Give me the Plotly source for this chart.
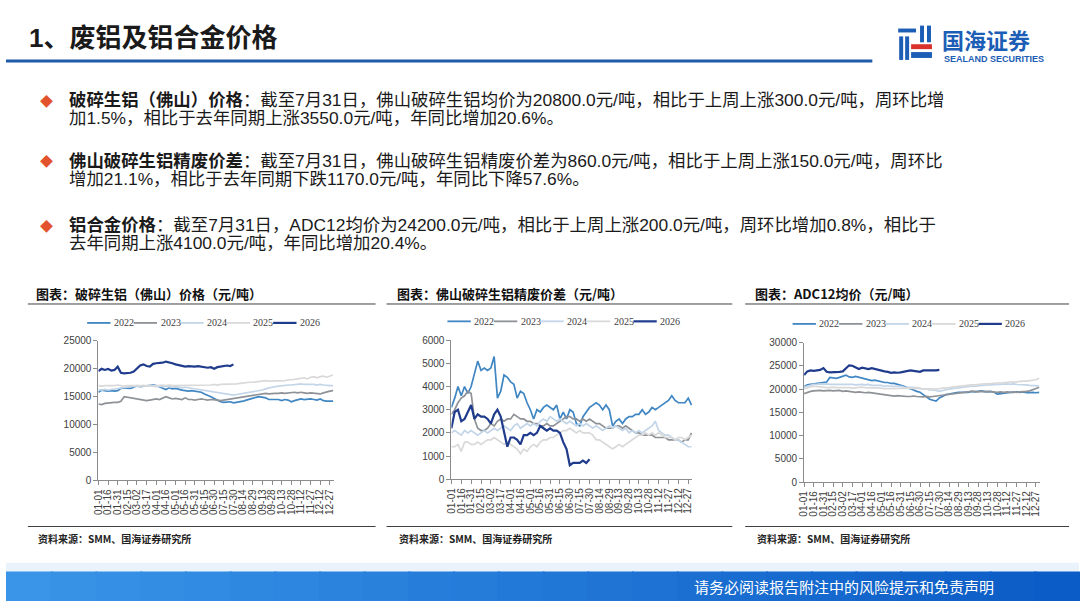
import plotly.graph_objects as go

W, H = 1080, 607
DAY_STEP = 5  # one sample every 5 days, starting 01-01
YEARS = ["2022", "2023", "2024", "2025", "2026"]
COLORS = {"2022": "#3f86c2", "2023": "#8e9297", "2024": "#c3d5e8",
          "2025": "#d9d9d9", "2026": "#1f3b8c"}

TICK_LABELS = ["01-01", "01-16", "01-31", "02-15", "03-02", "03-17", "04-01",
               "04-16", "05-01", "05-16", "05-31", "06-15", "06-30", "07-15",
               "07-30", "08-14", "08-29", "09-13", "09-28", "10-13", "10-28",
               "11-12", "11-27", "12-12", "12-27"]

# 破碎生铝（佛山）价格 (元/吨)
scrap_2022 = [15800, 16200, 16100, 16000, 16100, 16000, 16100, 16500, 16600, 16600,
              16500, 16700, 17000, 16800, 16900, 17000, 17100, 17100, 17000, 16800,
              16500, 16300, 16600, 16400, 16500, 16300, 16200, 16100, 16000, 16100,
              16000, 15900, 15800, 15500, 15300, 15000, 14700, 14400, 14100, 14000,
              14000, 14100, 13900, 14000, 14000, 14200, 14400, 14600, 14700, 14900,
              15000, 14900, 14800, 14500, 14500, 14400, 14500, 14300, 14500, 14400,
              14100, 14300, 14500, 14600, 14500, 14600, 14600, 14500, 14400, 14600,
              14300, 14200, 14200, 14200]
scrap_2023 = [13700, 13600, 13800, 13900, 13900, 14000, 14000, 14200, 15000, 14900,
              14900, 14800, 14700, 14600, 14500, 14300, 14400, 14500, 14600, 14500,
              14700, 15000, 14800, 14600, 14700, 14600, 14500, 14800, 14500, 14500,
              14400, 14500, 14600, 14500, 14400, 14500, 14500, 14400, 14300, 14400,
              14500, 14600, 14700, 14800, 14900, 15000, 15100, 15200, 15300, 15400,
              15500, 15500, 15600, 15500, 15600, 15600, 15600, 15700, 15600, 15700,
              15700, 15800, 15700, 15800, 15700, 15600, 15700, 15600, 15500, 15500,
              15700, 15900, 16000, 16100]
scrap_2024 = [16300, 16200, 16300, 16200, 16300, 16400, 16500, 16600, 16700, 16800,
              16800, 16900, 16800, 16900, 17000, 16900, 17000, 16900, 16800, 16900,
              16800, 16900, 16800, 16700, 16800, 16700, 16600, 16700, 16600, 16500,
              16500, 16400, 16300, 16200, 16100, 16000, 15800, 15700, 15600, 15500,
              15400, 15300, 15300, 15400, 15500, 15500, 15600, 15700, 15800, 15900,
              16000, 16200, 16400, 16600, 16700, 16800, 16900, 17000, 17000, 17100,
              17100, 17200, 17200, 17300, 17200, 17200, 17300, 17200, 17100, 17200,
              17100, 17000, 17000, 17000]
scrap_2025 = [17000, 16900, 17000, 17000, 16900, 17000, 17100, 17000, 16900, 17000,
              17000, 17100, 17000, 17000, 17100, 17000, 17000, 16900, 17000, 17000,
              17100, 17000, 17100, 17000, 17000, 17100, 17000, 17000, 17100, 17100,
              17000, 17100, 17100, 17000, 17100, 17100, 17200, 17100, 17200, 17200,
              17300, 17200, 17250, 17300, 17400, 17500, 17500, 17600, 17600, 17700,
              17800, 17800, 17900, 17800, 17800, 17900, 17900, 17800, 17900, 18000,
              18000, 18100, 18200, 18300, 18400, 18200, 18500, 18600, 18400, 18600,
              18700, 18500, 18700, 18900]
scrap_2026 = [19600, 20000, 19800, 20000, 19700, 19800, 20400, 19300, 19200, 19200,
              19300, 19500, 20000, 20600, 20800, 20500, 20400, 20900, 21000, 21000,
              21100, 21300, 21200, 21000, 20800, 20700, 20600, 20400, 20500, 20400,
              20400, 20500, 20400, 20400, 20200, 20300, 20000, 20300, 20400, 20400,
              20600, 20500, 20800]

# 佛山破碎生铝精废价差 (元/吨)
spread_2022 = [3100, 3500, 4000, 3600, 4000, 3700, 4000, 4500, 5100, 4700,
               4800, 4700, 4800, 5300, 3500, 3800, 4500, 4400, 4200, 4100,
               3500, 3800, 3700, 3300, 3000, 2600, 3000, 2900, 3100, 3200,
               3100, 3000, 3200, 2600, 2900, 2600, 3000, 2900, 2400, 2300,
               2700, 2900, 3100, 3200, 3300, 3200, 3000, 3200, 3000, 2300,
               2500, 2600, 2400, 2600, 2700, 2700, 2800, 2800, 3000, 2800,
               2900, 3100, 3000, 3100, 3200, 3300, 3400, 3600, 3400, 3300,
               3300, 3300, 3500, 3200]
spread_2023 = [2800, 3000, 3300, 3500, 3600, 3800, 3700, 2600, 2200, 2100,
               2100, 2200, 2400, 2300, 2500, 2600, 2500, 2600, 2600, 2800,
               2700, 2600, 2600, 2500, 2500, 2400, 2400, 2300, 2300, 2400,
               2300, 2300, 2400, 2500, 2600, 2700, 2700, 2600, 2600, 2500,
               2600, 2500, 2600, 2500, 2400, 2400, 2300, 2200, 2200, 2200,
               2300, 2300, 2200, 2300, 2200, 2100, 2000, 2000, 1900, 1900,
               1900, 1900, 1800, 1800, 1800, 1800, 1700, 1700, 1700, 1700,
               1600, 1700, 1700, 2000]
spread_2024 = [2000, 2100, 2000, 1900, 2100, 2000, 2100, 2000, 1900, 2000,
               2100, 2000, 2100, 2200, 2100, 2200, 2300, 2200, 2100, 2300,
               2400, 2200, 2300, 2400, 2300, 2400, 2300, 2500, 2600, 2500,
               2700, 2600, 2500, 2600, 2500, 2400, 2500, 2400, 2300, 2400,
               2300, 2400, 2300, 2200, 2300, 2200, 2100, 2200, 2300, 2200,
               2300, 2200, 2100, 2200, 2000, 2100, 2000, 2100, 2000, 2100,
               2200, 2300, 2500, 2100, 2000, 1900, 1900, 1800, 1700, 1700,
               1600, 1500, 1400, 1400]
spread_2025 = [1400, 1400, 1500, 1200, 1600, 1600, 1500, 1500, 1600, 1500,
               1600, 1700, 1700, 1800, 1700, 1600, 1500, 1600, 1500, 1400,
               1300, 1100, 1300, 1200, 1400, 1500, 1400, 1600, 1700, 1700,
               1800, 1800, 1900, 2000, 2100, 2100, 2200, 2100, 2000, 2100,
               2000, 2000, 2000, 1900, 1700, 1700, 1600, 1500, 1400, 1300,
               1400, 1500, 1400, 1500, 1600, 1700, 1800, 1900, 1900, 2000,
               1900, 2000, 1900, 2000, 1900, 1800, 1800, 1800, 1700, 1800,
               1800, 1700, 1800, 1900]
spread_2026 = [2200, 2900, 3000, 2500, 2600, 2900, 3200, 2600, 2800, 2700,
               2700, 2600, 2400, 2800, 3000, 2700, 2100, 1400, 1800, 1800,
               1700, 1500, 1900, 1900, 2000, 1900, 2000, 2300, 2200, 2100,
               2200, 2100, 2100, 2000, 1600, 1300, 600, 700, 700, 700,
               800, 700, 860]

# ADC12均价 (元/吨)
adc_2022 = [20500, 20900, 21000, 21100, 21200, 21200, 21300, 21500, 22500, 22400,
            22300, 22500, 22800, 23000, 22600, 22500, 22700, 22500, 22300, 22200,
            22000, 21800, 21900, 21700, 21500, 21400, 21400, 21200, 21200, 21000,
            20900, 20600, 20300, 20100, 19800, 19500, 19300, 18800, 18200, 17800,
            17600, 17400, 18100, 18500, 18800, 18900, 19100, 19200, 19300, 19300,
            19400, 19300, 19500, 19400, 19500, 19600, 19500, 19400, 19500, 19300,
            18900, 19000, 19200, 19300, 19300, 19300, 19400, 19300, 19400, 19200,
            19300, 19300, 19200, 19300]
adc_2023 = [19000, 19300, 19500, 19600, 19700, 19700, 19600, 19700, 19700, 19600,
            19600, 19700, 19500, 19600, 19500, 19400, 19300, 19400, 19300, 19200,
            19300, 19200, 19000, 18900, 18800, 18700, 18600, 18500, 18500, 18600,
            18500, 18500, 18400, 18400, 18500, 18400, 18300, 18300, 18400, 18300,
            18400, 18500, 18600, 18700, 18800, 18900, 19000, 19100, 19200, 19300,
            19400, 19400, 19500, 19500, 19400, 19500, 19400, 19500, 19400, 19400,
            19300, 19400, 19300, 19400, 19300, 19400, 19300, 19400, 19400, 19500,
            19600, 19800, 20100, 20400]
adc_2024 = [20400, 20600, 20900, 21000, 21000, 21100, 21000, 21100, 21000, 21000,
            21100, 21000, 21000, 21100, 21000, 21000, 20900, 21000, 21000, 20900,
            21000, 20800, 20800, 20900, 20800, 20600, 20700, 20600, 20600, 20500,
            20600, 20400, 20400, 20300, 20400, 20300, 20100, 20100, 20000, 19800,
            19800, 19700, 19500, 19700, 19800, 20000, 20100, 20200, 20300, 20400,
            20400, 20500, 20600, 20600, 20700, 20800, 20800, 20900, 20900, 21000,
            21000, 21000, 21100, 21100, 21000, 21100, 21000, 21000, 20900, 20900,
            20800, 20800, 20800, 20700]
adc_2025 = [20000, 20300, 20500, 20600, 20500, 20400, 20400, 20300, 20300, 20400,
            20300, 20300, 20400, 20300, 20300, 20200, 20300, 20300, 20400, 20300,
            20300, 20200, 20300, 20300, 20200, 20100, 20100, 20200, 20100, 20100,
            20100, 20200, 20200, 20100, 20200, 20200, 20200, 20000, 20000, 20100,
            20000, 20000, 20100, 20200, 20200, 20300, 20400, 20500, 20600, 20700,
            20700, 20800, 20900, 20900, 21000, 21000, 21100, 21100, 21200, 21200,
            21300, 21300, 21400, 21500, 21500, 21500, 21600, 21600, 21700, 21700,
            21800, 21900, 22000, 22300]
adc_2026 = [23000, 23800, 24000, 23900, 24000, 24100, 24500, 23700, 23600, 23600,
            23700, 23700, 23800, 24500, 25100, 25000, 24700, 24300, 24600, 24400,
            24300, 24500, 24300, 24100, 24000, 23800, 23700, 23500, 23600, 23500,
            23600, 23700, 23800, 24000, 23900, 23800, 23700, 24000, 24000, 24000,
            23900, 24000, 24100]

BULLETS = [
    ("破碎生铝（佛山）价格",
     "截至7月31日，佛山破碎生铝均价为20800.0元/吨，相比于上周上涨300.0元/吨，周环比增",
     "加1.5%，相比于去年同期上涨3550.0元/吨，年同比增加20.6%。"),
    ("佛山破碎生铝精废价差",
     "截至7月31日，佛山破碎生铝精废价差为860.0元/吨，相比于上周上涨150.0元/吨，周环比",
     "增加21.1%，相比于去年同期下跌1170.0元/吨，年同比下降57.6%。"),
    ("铝合金价格",
     "截至7月31日，ADC12均价为24200.0元/吨，相比于上周上涨200.0元/吨，周环比增加0.8%，相比于",
     "去年同期上涨4100.0元/吨，年同比增加20.4%。"),
]

CJK = "Noto Sans CJK SC"
MIXED = "Liberation Sans, Noto Sans CJK SC"


def px(x):
    return x / W


def py(y):
    return 1 - y / H


def label(x, y, text, size, color, family=CJK, anchor="left"):
    return dict(x=px(x), y=py(y), xref="paper", yref="paper", text=text,
                xanchor=anchor, yanchor="middle", showarrow=False,
                font=dict(family=family, size=size, color=color))


def line(x0, x1, y, color, width):
    return dict(type="line", xref="paper", yref="paper", x0=px(x0), x1=px(x1),
                y0=py(y), y1=py(y), line=dict(color=color, width=width))


panels = [
    dict(title="图表：破碎生铝（佛山）价格（元/吨）",
         series=[scrap_2022, scrap_2023, scrap_2024, scrap_2025, scrap_2026],
         ymax=25000, dtick=5000, d0=93, pday=0.6472, ybot=484, ytop=341.7,
         lx=81.7, ly=323.3, left=22, right=372, tx=28),
    dict(title="图表：佛山破碎生铝精废价差（元/吨）",
         series=[spread_2022, spread_2023, spread_2024, spread_2025, spread_2026],
         ymax=6000, dtick=1000, d0=448.3, pday=0.6622, ybot=482.7, ytop=341,
         lx=444.3, ly=321.7, left=383, right=731, tx=392),
    dict(title="图表：ADC12均价（元/吨）",
         series=[adc_2022, adc_2023, adc_2024, adc_2025, adc_2026],
         ymax=30000, dtick=5000, d0=803.3, pday=0.6483, ybot=485.7, ytop=343.3,
         lx=791.7, ly=324.3, left=744, right=1070, tx=752),
]

fig = go.Figure()
shapes = []
annotations = []
layout_axes = {}
tick_font = dict(family="Liberation Sans", size=10, color="#404040")

for n, p in enumerate(panels, start=1):
    suffix = "" if n == 1 else str(n)
    for year, vals in zip(YEARS, p["series"]):
        fig.add_trace(go.Scatter(
            x=[i * DAY_STEP for i in range(len(vals))], y=vals,
            mode="lines", name=year, showlegend=False,
            line=dict(color=COLORS[year], width=2.2 if year == "2026" else 1.7),
            xaxis="x" + suffix, yaxis="y" + suffix,
        ))
    layout_axes["xaxis" + suffix] = dict(
        domain=[px(p["d0"]), px(p["d0"] + 366 * p["pday"])],
        range=[0, 366], anchor="y" + suffix,
        tickvals=[i * 15 for i in range(len(TICK_LABELS))], ticktext=TICK_LABELS,
        tickangle=-90, tickfont=tick_font, ticks="outside", ticklen=4,
        tickcolor="#8c8c8c", showline=True, linecolor="#8c8c8c", linewidth=1,
        showgrid=False, zeroline=False, fixedrange=True,
    )
    layout_axes["yaxis" + suffix] = dict(
        domain=[py(p["ybot"]), py(p["ytop"])],
        range=[0, p["ymax"]], dtick=p["dtick"], tickformat="d", anchor="x" + suffix,
        tickfont=tick_font, ticks="outside", ticklen=4, tickcolor="#8c8c8c",
        showline=True, linecolor="#8c8c8c", linewidth=1,
        showgrid=False, zeroline=False, fixedrange=True,
    )

    # panel title, rules and source
    annotations.append(label(p["tx"], 293, "<b>" + p["title"] + "</b>", 13, "#111111"))
    shapes.append(line(p["left"], p["right"], 304, "#404040", 1))
    shapes.append(line(p["left"], p["right"], 531, "#404040", 1))
    annotations.append(label(p["tx"] + 2, 543, "<b>资料来源：SMM、国海证券研究所</b>",
                             10, "#222222"))

    # legend
    for k, year in enumerate(YEARS):
        lx = p["lx"] + k * 46.8
        shapes.append(line(lx, lx + 23.5, p["ly"], COLORS[year],
                           2.2 if year == "2026" else 1.8))
        annotations.append(label(lx + 25, p["ly"], year, 10, "#404040",
                                 family="Liberation Serif"))

# slide title and rule
annotations.append(label(21, 33, "<b>1、废铝及铝合金价格</b>", 26, "#1a1a1a", family=MIXED))
shapes.append(line(0, 872, 56, "#1f5ba8", 3))

# logo
logo_blue, logo_red = "#1c5db5", "#d9312b"
for (x0, y0, x1, y1, c) in [(898, 23, 916, 27, logo_blue), (899, 31, 903, 55, logo_blue),
                            (905, 31, 909, 55, logo_blue), (920, 20, 924, 37, logo_blue),
                            (927, 20, 931, 37, logo_blue), (911, 39, 932, 44, logo_red),
                            (911, 47, 932, 53, logo_blue)]:
    shapes.append(dict(type="rect", xref="paper", yref="paper", x0=px(x0), x1=px(x1),
                       y0=py(y1), y1=py(y0), fillcolor=c, line=dict(width=0)))
annotations.append(label(940, 34, "<b>国海证券</b>", 22, logo_blue))
annotations.append(label(942, 54, "<b>SEALAND SECURITIES</b>", 9, logo_blue,
                         family="Liberation Sans"))

# bullet paragraphs (line centres)
for (head, rest, line2), (y1, y2) in zip(BULLETS, [(96, 114), (158, 176), (223.5, 241.5)]):
    annotations.append(label(41, y1, "◆", 13, "#e2532d", anchor="center"))
    annotations.append(label(61, y1, "<b>" + head + "</b>：" + rest, 17.4, "#1a1a1a",
                             family=MIXED))
    annotations.append(label(61, y2, line2, 17.4, "#1a1a1a", family=MIXED))

# footer band
shapes.append(dict(type="rect", xref="paper", yref="paper", x0=0, x1=1,
                   y0=py(578), y1=py(568), fillcolor="#eaf3fc", line=dict(width=0)))
band_steps = 24
for i in range(band_steps):
    t = i / (band_steps - 1)
    r = int(0x3a + (0x0b - 0x3a) * t)
    g = int(0x95 + (0x5c - 0x95) * t)
    b = int(0xe8 + (0xc6 - 0xe8) * t)
    shapes.append(dict(type="rect", xref="paper", yref="paper",
                       x0=i / band_steps, x1=(i + 1) / band_steps + 0.002,
                       y0=0, y1=py(577), fillcolor=f"rgb({r},{g},{b})", line=dict(width=0)))
annotations.append(label(690, 592, "请务必阅读报告附注中的风险提示和免责声明", 15, "#ffffff"))

fig.update_layout(
    width=W, height=H, margin=dict(l=0, r=0, t=0, b=0),
    paper_bgcolor="white", plot_bgcolor="white",
    shapes=shapes, annotations=annotations, showlegend=False,
    **layout_axes,
)

# the page body keeps its default 8px margin otherwise, which pushes the slide off-frame
fig.write_html("out.html", config={"displayModeBar": False},
               post_script="document.body.style.margin='0';"
                           "document.body.style.overflow='hidden';")
